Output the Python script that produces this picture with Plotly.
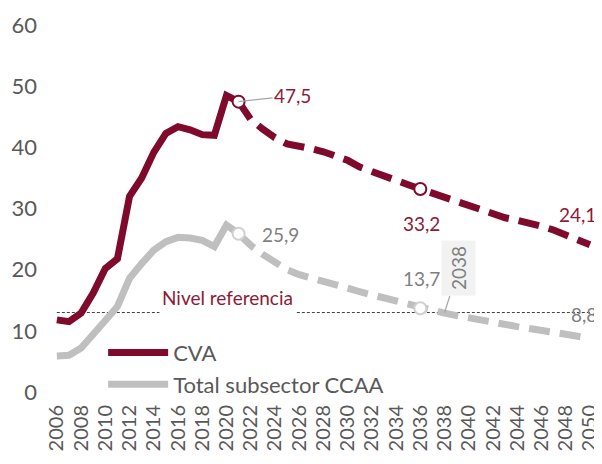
import plotly.graph_objects as go

years_hist = list(range(2006, 2022))
cva_hist = [11.8, 11.5, 12.9, 16.2, 20.2, 21.8, 32.0, 35.0, 39.2, 42.3, 43.4, 42.9, 42.1, 42.0, 48.5, 47.5]
ccaa_hist = [5.9, 6.0, 7.2, 9.3, 11.7, 14.0, 18.6, 21.0, 23.2, 24.6, 25.3, 25.2, 24.8, 23.8, 27.3, 25.9]

years_proj = list(range(2021, 2051))
cva_proj = [47.5, 44.6, 43.0, 41.6, 40.6, 40.3, 39.8, 39.3, 38.7, 37.9, 36.8, 36.0, 35.4, 34.6, 33.9, 33.2,
            32.5, 31.8, 31.0, 30.3, 29.7, 29.0, 28.5, 28.1, 27.7, 27.1, 26.5, 25.8, 25.0, 24.1]
ccaa_proj = [25.9, 24.0, 22.5, 21.1, 20.0, 19.2, 18.7, 18.2, 17.6, 17.0, 16.4, 15.9, 15.3, 14.8, 14.2, 13.7,
             13.3, 12.9, 12.5, 12.1, 11.8, 11.4, 11.0, 10.7, 10.4, 10.1, 9.8, 9.5, 9.1, 8.8]

marker_years = [2021, 2036]
cva_marks = [47.5, 33.2]
ccaa_marks = [25.9, 13.7]
cva_end = (2050, 24.1)
ccaa_end = (2050, 8.8)

ref_level = 13
cross_year = 2038

x_ticks = list(range(2006, 2051, 2))
y_ticks = list(range(0, 61, 10))

RED = "#7F0A2C"
RED_TXT = "#8E1A36"
GRAY = "#BFBFBF"
GRAY_TXT = "#7F7F7F"
AX_TXT = "#595959"
FONT = "Lato"

fig = go.Figure()

fig.add_trace(go.Scatter(x=years_hist, y=cva_hist, mode="lines", name="CVA",
                         line=dict(color=RED, width=7)))
fig.add_trace(go.Scatter(x=years_hist, y=ccaa_hist, mode="lines", name="Total subsector CCAA",
                         line=dict(color=GRAY, width=7)))
fig.add_trace(go.Scatter(x=years_proj, y=cva_proj, mode="lines", showlegend=False,
                         line=dict(color=RED, width=7, dash="21px,10px")))
fig.add_trace(go.Scatter(x=years_proj, y=ccaa_proj, mode="lines", showlegend=False,
                         line=dict(color=GRAY, width=7, dash="21px,10px")))
fig.add_trace(go.Scatter(x=marker_years, y=cva_marks, mode="markers", showlegend=False,
                         marker=dict(size=12, color="white", line=dict(color=RED, width=2))))
fig.add_trace(go.Scatter(x=marker_years, y=ccaa_marks, mode="markers", showlegend=False,
                         marker=dict(size=12, color="white", line=dict(color="#D0D0D0", width=2))))

fig.add_shape(type="line", x0=2006, x1=2050, y0=ref_level, y1=ref_level, layer="below",
              line=dict(color="#404040", width=1, dash="3px,2px"))

fig.add_annotation(x=2006, y=ref_level, text="Nivel referencia", showarrow=False,
                   xanchor="left", yanchor="bottom", xshift=102, yshift=-4,
                   height=28, valign="top",
                   bgcolor="white", borderpad=2,
                   font=dict(family=FONT, size=19, color=RED_TXT))

fig.add_annotation(x=marker_years[0], y=cva_marks[0], text="47,5", showarrow=True,
                   arrowhead=0, arrowwidth=1.2, arrowcolor="#A6A6A6", ax=54, ay=-6,
                   font=dict(family=FONT, size=19, color=RED_TXT))
fig.add_annotation(x=marker_years[0], y=ccaa_marks[0], text="25,9", showarrow=False,
                   xshift=42, yshift=-1, font=dict(family=FONT, size=19, color=GRAY_TXT))
fig.add_annotation(x=marker_years[1], y=cva_marks[1], text="33,2", showarrow=False,
                   xshift=1, yshift=-34, font=dict(family=FONT, size=19, color=RED_TXT))
fig.add_annotation(x=marker_years[1], y=ccaa_marks[1], text="13,7", showarrow=False,
                   xshift=1, yshift=30, font=dict(family=FONT, size=19, color=GRAY_TXT))
fig.add_annotation(x=cva_end[0], y=cva_end[1], text="24,1", showarrow=False,
                   xanchor="right", xshift=8, yshift=30, font=dict(family=FONT, size=19, color=RED_TXT))
fig.add_annotation(x=ccaa_end[0], y=ccaa_end[1], text="8,8", showarrow=False,
                   xanchor="right", xshift=9, yshift=24, font=dict(family=FONT, size=19, color=GRAY_TXT))
fig.add_annotation(x=cross_year, y=ref_level, text=str(cross_year), textangle=-90,
                   showarrow=True, arrowhead=0, arrowwidth=1.2, arrowcolor="#A6A6A6",
                   ax=14, ay=-44, bgcolor="#F2F2F2", borderpad=5,
                   font=dict(family=FONT, size=19, color=GRAY_TXT))

# The page adds an 8px body margin, so the figure is 8px smaller on each axis
fig.update_layout(
    width=594, height=456,
    margin=dict(l=44, r=6, t=5, b=72, autoexpand=False),
    paper_bgcolor="white", plot_bgcolor="white",
    font=dict(family=FONT, color=AX_TXT),
    showlegend=True,
    legend=dict(x=0.094, y=0.159, xanchor="left", yanchor="top",
                font=dict(family=FONT, size=22, color=AX_TXT),
                bgcolor="rgba(0,0,0,0)", itemwidth=60, tracegroupgap=0),
    xaxis=dict(range=[2005.6, 2050.5], tickmode="array", tickvals=x_ticks,
               ticktext=[str(v) for v in x_ticks], tickangle=-90, automargin=False,
               tickfont=dict(family=FONT, size=20, color=AX_TXT),
               showgrid=False, zeroline=False, showline=False, ticks="",
               ticklabelstandoff=8),
    yaxis=dict(range=[0, 62], tickmode="array", tickvals=y_ticks, automargin=False,
               tickfont=dict(family=FONT, size=22, color=AX_TXT),
               showgrid=False, zeroline=False, showline=False, ticks="",
               ticklabelstandoff=14),
)

fig.write_html("out.html")
